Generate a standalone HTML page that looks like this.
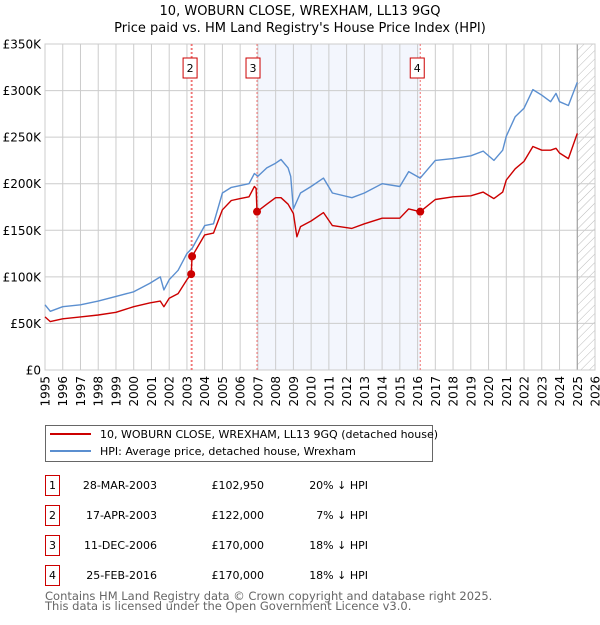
<!DOCTYPE html>
<html><head><meta charset="utf-8"><style>
body{margin:0;background:#fff;font-family:"Liberation Sans","DejaVu Sans",sans-serif;}
svg text{font-family:"DejaVu Sans","Liberation Sans",sans-serif;}
</style></head><body>
<svg id="chart" width="600" height="620" viewBox="0 0 600 620" xmlns="http://www.w3.org/2000/svg">
<defs><pattern id="hatch" width="6" height="6" patternUnits="userSpaceOnUse" patternTransform="rotate(45)"><line x1="0" y1="0" x2="0" y2="6" stroke="#bbb" stroke-width="1"/></pattern></defs>
<text x="300" y="15" text-anchor="middle" font-size="13" fill="#000">10, WOBURN CLOSE, WREXHAM, LL13 9GQ</text>
<text x="300" y="32" text-anchor="middle" font-size="13" fill="#000">Price paid vs. HM Land Registry's House Price Index (HPI)</text>
<g id="plot"></g>
<g>
<rect x="45.5" y="425.5" width="387" height="36" fill="#fff" stroke="#666"/>
<line x1="50" y1="434" x2="91" y2="434" stroke="#cc0000" stroke-width="2"/>
<text x="100" y="438" font-size="11">10, WOBURN CLOSE, WREXHAM, LL13 9GQ (detached house)</text>
<line x1="50" y1="451" x2="91" y2="451" stroke="#5b8fd0" stroke-width="2"/>
<text x="100" y="455" font-size="11">HPI: Average price, detached house, Wrexham</text>
</g>
<g id="table" font-size="11"></g>
<text x="45" y="600" font-size="11.5" fill="#666">Contains HM Land Registry data © Crown copyright and database right 2025.</text>
<text x="45" y="610" font-size="11.5" fill="#666">This data is licensed under the Open Government Licence v3.0.</text>
</svg>
<script>
const hpiYears=[1995,1995.3,1996,1997,1998,1999,2000,2000.9,2001.5,2001.7,2002,2002.5,2003,2003.3,2004,2004.5,2005,2005.5,2006,2006.5,2006.8,2007,2007.5,2008,2008.3,2008.7,2008.85,2009.0,2009.4,2010,2010.7,2011.2,2012.3,2013,2014,2015,2015.5,2016.15,2017,2018,2019,2019.7,2020.3,2020.8,2021,2021.5,2022,2022.5,2023,2023.5,2023.8,2024,2024.5,2025];
const hpiValues=[70,63,68,70,74,79,84,93,100,86,97,107,125,131,155,157,190,196,198,200,211,208,217,222,226,217,208,173,190,197,206,190,185,190,200,197,213,206,225,227,230,235,225,236,251,272,281,301,295,288,297,288,284,309];
const ppYears=[1995,1995.3,1996,1997,1998,1999,2000,2000.9,2001.5,2001.7,2002,2002.5,2003,2003.24,2003.29,2004,2004.5,2005,2005.5,2006,2006.5,2006.8,2006.9,2006.95,2007.5,2008,2008.3,2008.7,2009.0,2009.2,2009.4,2010,2010.7,2011.2,2012.3,2013,2014,2015,2015.5,2016.15,2017,2018,2019,2019.7,2020.3,2020.8,2021,2021.5,2022,2022.5,2023,2023.5,2023.8,2024,2024.5,2025];
const ppValues=[57,52,55,57,59,62,68,72,74,68,77,82,97,102.95,122,145,147,172,182,184,186,197,195,170,178,185,185,178,168,143,154,160,169,155,152,157,163,163,173,170,183,186,187,191,184,191,204,216,224,240,236,236,238,233,227,254];
const saleLabels=["1","2","3","4"];
const saleYears=[2003.24,2003.29,2006.95,2016.15];
const saleValues=[102.95,122,170,170];
const saleDates=["28-MAR-2003","17-APR-2003","11-DEC-2006","25-FEB-2016"];
const salePrices=["£102,950","£122,000","£170,000","£170,000"];
const saleDiffs=["20% ↓ HPI","7% ↓ HPI","18% ↓ HPI","18% ↓ HPI"];
const yTicks=[0,50,100,150,200,250,300,350];
const yTickLabels=["£0","£50K","£100K","£150K","£200K","£250K","£300K","£350K"];
const xTicks=[1995,1996,1997,1998,1999,2000,2001,2002,2003,2004,2005,2006,2007,2008,2009,2010,2011,2012,2013,2014,2015,2016,2017,2018,2019,2020,2021,2022,2023,2024,2025,2026];

const NS="http://www.w3.org/2000/svg";
const X0=45,X1=595,Y0=370,Y1=44;
const xs=y=>X0+(y-1995)/(2026-1995)*(X1-X0);
const ys=v=>Y0-v/350*(Y0-Y1);
const plot=document.getElementById('plot');
function mk(tag,attrs,parent){const e=document.createElementNS(NS,tag);for(const k in attrs)e.setAttribute(k,attrs[k]);(parent||plot).appendChild(e);return e;}
let band=mk('rect',{x:xs(saleYears[2]),y:Y1,width:xs(saleYears[3])-xs(saleYears[2]),height:Y0-Y1,fill:'#eef2fc',opacity:0.7});


let hatch=mk('rect',{x:xs(2025),y:Y1,width:X1-xs(2025),height:Y0-Y1,fill:'url(#hatch)'});


xTicks.forEach(t=>{
  let g=mk('line',{x1:xs(t),x2:xs(t),y1:Y1,y2:Y0,stroke:'#ccc','stroke-width':1});
  
  
  let tx=mk('text',{x:0,y:0,'font-size':12,'text-anchor':'end',transform:`translate(${xs(t)+4.5},${376}) rotate(-90)`});
  tx.textContent=t;
  
  
});
yTicks.forEach((t,i)=>{
  let g=mk('line',{x1:X0,x2:X1,y1:ys(t),y2:ys(t),stroke:'#ccc','stroke-width':1});
  
  
  let tx=mk('text',{x:X0-4,y:ys(t)+4.5,'font-size':12,'text-anchor':'end'});
  tx.textContent=yTickLabels[i];
  
  
});
let nowLine=mk('line',{x1:xs(2025),x2:xs(2025),y1:Y1,y2:Y0,stroke:'#999','stroke-width':1});


let frame=mk('rect',{x:X0,y:Y1,width:X1-X0,height:Y0-Y1,fill:'none',stroke:'#ccc'});


saleYears.forEach((y,i)=>{
  let l=mk('line',{x1:xs(y),x2:xs(y),y1:Y1,y2:Y0,stroke:'#f07070','stroke-width':1,'stroke-dasharray':'2,2'});
  
  
});
function path(xsArr,vals,color,name){
  let d=xsArr.map((y,i)=>(i?'L':'M')+xs(y).toFixed(1)+','+ys(vals[i]).toFixed(1)).join(' ');
  let p=mk('path',{d:d,fill:'none',stroke:color,'stroke-width':1.4,'stroke-linejoin':'round'});
  
  
}
path(hpiYears,hpiValues,'#5b8fd0','hpi-line');
path(ppYears,ppValues,'#cc0000','price-paid-line');
const boxOffsets=[0,-2,-4,-3];
saleYears.forEach((y,i)=>{
  let c=mk('circle',{cx:xs(y),cy:ys(saleValues[i]),r:4,fill:'#cc0000'});
  
  
  if(i===0)return;
  let bx=xs(y)+boxOffsets[i];
  let r=mk('rect',{x:bx-7,y:58,width:14,height:20,fill:'#fff',stroke:'#cc0000'});
  
  
  let t=mk('text',{x:bx,y:72,'font-size':11,'text-anchor':'middle'});
  t.textContent=saleLabels[i];
  
  
});
const table=document.getElementById('table');
saleLabels.forEach((s,i)=>{
  const cy=483+i*30;
  let r=mk('rect',{x:45.5,y:cy-7.5,width:14,height:20,fill:'#fff',stroke:'#cc0000'},table);
  
  
  let t=mk('text',{x:52.5,y:cy+6,'text-anchor':'middle'},table);t.textContent=s;
  
  
  let d=mk('text',{x:157,y:cy+6,'text-anchor':'end'},table);d.textContent=saleDates[i];
  
  
  let p=mk('text',{x:264,y:cy+6,'text-anchor':'end'},table);p.textContent=salePrices[i];
  
  
  let h=mk('text',{x:368,y:cy+6,'text-anchor':'end'},table);h.textContent=saleDiffs[i];
  
  
});
</script>
</body></html>
